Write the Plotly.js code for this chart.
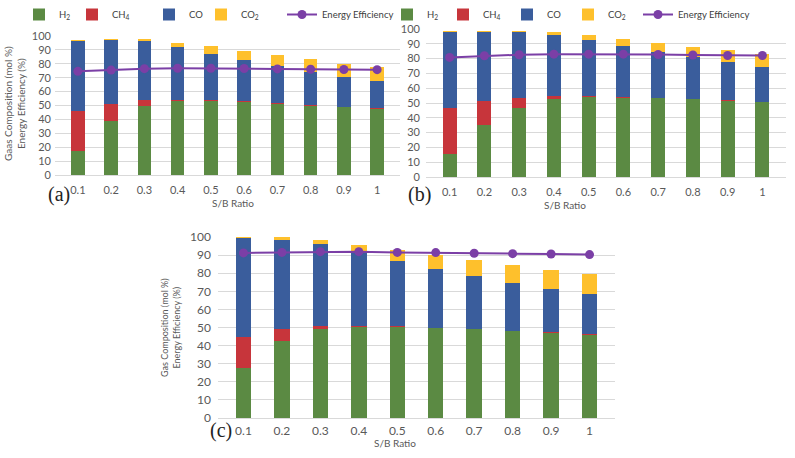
<!DOCTYPE html>
<html>
<head>
<meta charset="utf-8">
<script src="https://cdn.plot.ly/plotly-3.0.1.min.js"></script>
<style>html,body{margin:0;padding:0;background:#fff;}#chart{width:795px;height:458px;}</style>
</head>
<body>
<div id="chart"></div>
<script>
// Categories
const sbRatio = ['0.1','0.2','0.3','0.4','0.5','0.6','0.7','0.8','0.9','1'];

// Panel (a)
const h2A  = [17.2, 39.0, 50.0, 53.1, 53.1, 52.4, 51.4, 50.0, 48.8, 47.6];
const ch4A = [29.0, 12.4, 4.3, 1.2, 0.7, 0.6, 0.6, 0.4, 0.4, 0.4];
const coA  = [50.2, 45.5, 41.9, 38.0, 33.5, 29.5, 26.5, 24.0, 21.1, 19.5];
const co2A = [1.0, 0.7, 1.4, 2.9, 5.3, 6.7, 7.6, 8.9, 9.8, 10.3];
const eeA  = [74.6, 75.5, 76.5, 76.8, 76.8, 76.6, 76.3, 76.1, 75.9, 75.8];

// Panel (b)
const h2B  = [15.4, 35.1, 46.4, 52.5, 53.8, 53.6, 53.2, 52.5, 51.6, 50.5];
const ch4B = [31.0, 16.0, 7.2, 2.5, 1.0, 0.7, 0.4, 0.2, 0.3, 0.4];
const coB  = [51.3, 46.9, 44.1, 41.2, 37.5, 34.2, 30.8, 28.1, 25.5, 23.5];
const co2B = [0.7, 0.6, 0.7, 1.5, 3.6, 4.7, 6.1, 7.0, 8.3, 8.9];
const eeB  = [80.8, 81.9, 82.6, 83.0, 83.0, 83.0, 82.8, 82.4, 82.1, 82.1];

// Panel (c)
const h2C  = [27.6, 42.3, 48.9, 50.4, 50.2, 49.6, 48.9, 48.0, 47.1, 46.1];
const ch4C = [17.3, 6.8, 2.2, 0.7, 0.5, 0.4, 0.4, 0.3, 0.3, 0.4];
const coC  = [54.5, 49.4, 45.2, 41.4, 36.1, 32.5, 29.2, 26.3, 23.9, 21.9];
const co2C = [0.6, 1.3, 1.9, 3.3, 6.0, 7.6, 8.8, 10.0, 10.5, 11.2];
const eeC  = [91.2, 91.5, 91.9, 91.9, 91.5, 91.4, 91.0, 90.8, 90.6, 90.3];

const seriesNames = ['H<sub>2</sub>', 'CH<sub>4</sub>', 'CO', 'CO<sub>2</sub>', 'Energy Efficiency'];

const COL = {h2:'#5b8a43', ch4:'#c7353b', co:'#3a5d9c', co2:'#fec02c', ee:'#7b3fa6'};
const W = 795, H = 458;

// legends: one per entry; ids for panel a and panel b
const legIdsA = ['legend5', 'legend2', 'legend3', 'legend4', 'legend'];
const legIdsB = ['legend6', 'legend7', 'legend8', 'legend9', 'legend10'];

function panel(data, xa, ya, legIds, show) {
  const [h2, ch4, co, co2, ee] = data;
  const cols = [COL.h2, COL.ch4, COL.co, COL.co2];
  const vals = [h2, ch4, co, co2];
  const traces = vals.map((v, i) => ({
    type: 'bar', x: sbRatio, y: v, name: seriesNames[i],
    xaxis: xa, yaxis: ya, legend: legIds[i], showlegend: show,
    marker: {color: cols[i], line: {width: 0}}, cliponaxis: false,
    hoverinfo: 'y'
  }));
  traces.push({
    type: 'scatter', mode: 'lines+markers', x: sbRatio, y: ee, name: seriesNames[4],
    xaxis: xa, yaxis: ya, legend: legIds[4], showlegend: show,
    line: {color: COL.ee, width: 2}, marker: {color: COL.ee, size: 9}, cliponaxis: false
  });
  return traces;
}

const traces = [].concat(
  panel([h2A, ch4A, coA, co2A, eeA], 'x', 'y', legIdsA, true),
  panel([h2B, ch4B, coB, co2B, eeB], 'x2', 'y2', legIdsB, true),
  panel([h2C, ch4C, coC, co2C, eeC], 'x3', 'y3', legIdsA, false)
);

const px = v => v / W;
const py = v => 1 - v / H;
const FAM = 'Lato, "Open Sans", sans-serif';

function xAxis(x0, x1, anchor, fs, tl) {
  return {domain: [px(x0), px(x1)], anchor: anchor, type: 'category',
    showgrid: false, zeroline: false, showline: true, linecolor: '#d9d9d9', linewidth: 1,
    ticks: 'outside', ticklen: tl, tickcolor: 'rgba(0,0,0,0)',
    tickfont: {family: FAM, size: fs, color: '#595959'}, fixedrange: true};
}
function yAxis(y0, y1, anchor, fs, so) {
  return {domain: [py(y1), py(y0)], anchor: anchor, range: [0, 100], dtick: 10,
    showgrid: true, gridcolor: '#d9d9d9', gridwidth: 1, zeroline: false, showline: false,
    ticks: '', ticklabelstandoff: so, tickfont: {family: FAM, size: fs, color: '#595959'}, fixedrange: true};
}

const annFont = {family: FAM, size: 10, color: '#595959'};
const letterFont = {family: '"Liberation Serif", "DejaVu Serif", serif', size: 20, color: '#222'};
const legFont = {family: FAM, size: 9.5, color: '#404040'};

function legendAt(x) {
  return {orientation: 'h', xref: 'container', yref: 'container', x: px(x), y: py(0),
    xanchor: 'left', yanchor: 'top',
    font: legFont, bgcolor: 'rgba(0,0,0,0)'};
}

// legend left positions (px)
const legLeftA = [19, 72, 149, 201, 282];
const legLeftB = [387, 443, 507, 568, 638];

const layout = {
  width: W, height: H,
  margin: {l: 0, r: 0, t: 0, b: 0, autoexpand: false},
  paper_bgcolor: '#fff', plot_bgcolor: '#fff',
  barmode: 'stack', bargap: 0.6,
  font: {family: FAM, color: '#404040'},
  xaxis: xAxis(55, 400, 'y', 11, 5),
  yaxis: yAxis(36, 175, 'x', 11, 3),
  xaxis2: xAxis(426, 786, 'y2', 11, 5),
  yaxis2: yAxis(29, 177, 'x2', 11, 5),
  xaxis3: xAxis(218, 615, 'y3', 12, 2),
  yaxis3: yAxis(237, 418, 'x3', 12, 6),
  annotations: [
    {text: 'Gaas Composition (mol %)<br>Energy Efficiency (%)', xref: 'paper', yref: 'paper',
      x: px(15), y: py(104), textangle: -90, showarrow: false, font: annFont, xanchor: 'center', yanchor: 'middle'},
    {text: 'Gas Composition (mol %)<br>Energy Efficiency (%)', xref: 'paper', yref: 'paper',
      x: px(170), y: py(328), textangle: -90, showarrow: false,
      font: {family: FAM, size: 9, color: '#595959'}, xanchor: 'center', yanchor: 'middle'},
    {text: 'S/B Ratio', xref: 'paper', yref: 'paper', x: px(210), y: py(203), showarrow: false, font: annFont},
    {text: 'S/B Ratio', xref: 'paper', yref: 'paper', x: px(588), y: py(205), showarrow: false, font: annFont},
    {text: 'S/B Ratio', xref: 'paper', yref: 'paper', x: px(395), y: py(451), showarrow: false, font: annFont},
    {text: '(a)', xref: 'paper', yref: 'paper', x: px(46), y: py(194), showarrow: false, font: letterFont},
    {text: '(b)', xref: 'paper', yref: 'paper', x: px(419), y: py(194), showarrow: false, font: letterFont},
    {text: '(c)', xref: 'paper', yref: 'paper', x: px(208), y: py(444), showarrow: false, font: letterFont}
  ]
};
legIdsA.forEach((id, i) => { layout[id] = legendAt(legLeftA[i]); });
legIdsB.forEach((id, i) => { layout[id] = legendAt(legLeftB[i]); });

Plotly.newPlot('chart', traces, layout, {displayModeBar: false, staticPlot: true});
</script>
</body>
</html>
